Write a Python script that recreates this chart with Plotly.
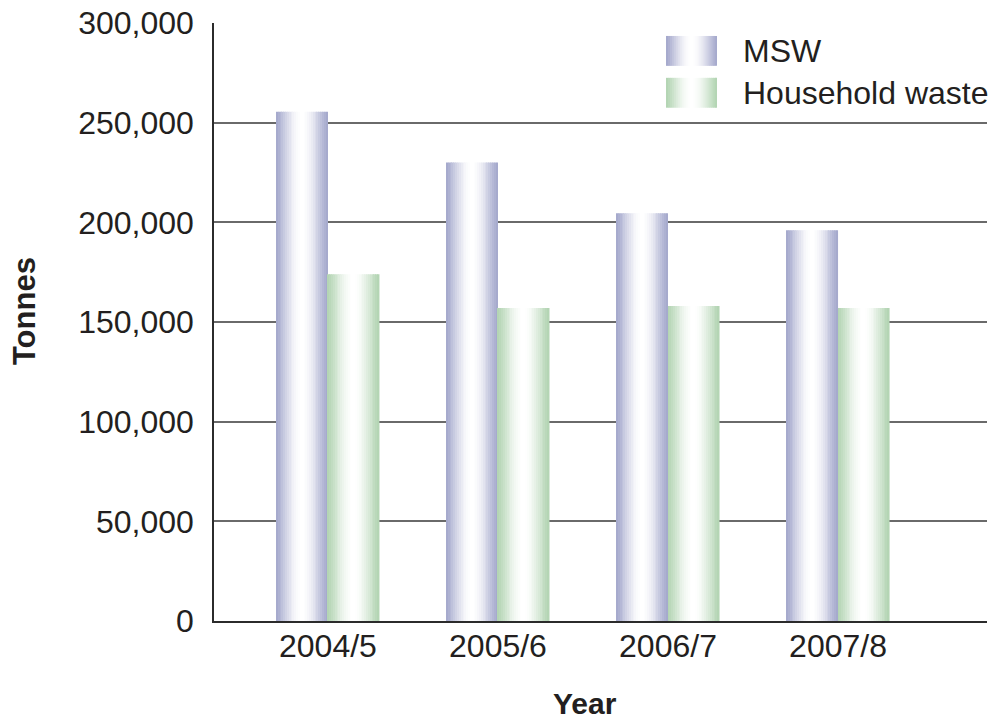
import plotly.graph_objects as go
import math

# Waste arisings by year (tonnes)
years = ["2004/5", "2005/6", "2006/7", "2007/8"]
msw = [255500, 230000, 204500, 196000]
household = [174000, 157000, 158000, 157000]
y_ticks = [0, 50000, 100000, 150000, 200000, 250000, 300000]

FONT = "Liberation Sans, Arial, sans-serif"
TEXT = "#231f20"

MSW_EDGE = (164, 168, 204)
HH_EDGE = (178, 212, 178)

N_SLICES = 28
BAR_W = 0.303


def shade(edge, t):
    """Cylinder-like shading: edge colour at the sides, white in the middle."""
    s = math.sin(math.pi * t) ** 1.3
    r, g, b = (round(c + (255 - c) * s) for c in edge)
    return f"rgb({r},{g},{b})"


fig = go.Figure()


def add_shaded_bars(values, name, edge, start):
    step = BAR_W / N_SLICES
    for k in range(N_SLICES):
        t = (k + 0.5) / N_SLICES
        fig.add_trace(go.Bar(
            x=years, y=values, name=name,
            width=step * 1.08 if k < N_SLICES - 1 else step,
            offset=start + k * step,
            marker=dict(color=shade(edge, t), line=dict(width=0)),
            showlegend=False, hoverinfo="x+y+name",
        ))


add_shaded_bars(msw, "MSW", MSW_EDGE, -BAR_W)
add_shaded_bars(household, "Household waste", HH_EDGE, 0.0)

# Plot-area geometry in pixels, used to place the key
L, R, T, B = 214, 987, 21, 621
W, H = R - L, B - T


def px(x):
    return (x - L) / W


def py(y):
    return 1 - (y - T) / H


shapes = []
annotations = []
key = [("MSW", MSW_EDGE, 34, 64), ("Household waste", HH_EDGE, 76, 106)]
for label, edge, y0, y1 in key:
    x0, x1 = 666, 717
    n = 26
    for k in range(n):
        a = x0 + (x1 - x0) * k / n
        b = x0 + (x1 - x0) * (k + 1) / n + 0.4
        shapes.append(dict(
            type="rect", xref="paper", yref="paper",
            x0=px(a), x1=px(min(b, x1)), y0=py(y1), y1=py(y0),
            fillcolor=shade(edge, (k + 0.5) / n), line=dict(width=0), layer="above",
        ))
    annotations.append(dict(
        text=label, xref="paper", yref="paper", x=px(741), y=py((y0 + y1) / 2),
        xanchor="left", yanchor="middle", showarrow=False,
        font=dict(family=FONT, size=32, color=TEXT),
    ))

annotations.append(dict(
    text="<b>Tonnes</b>", xref="paper", yref="paper", x=px(24), y=py(310),
    xanchor="center", yanchor="middle", textangle=-90, showarrow=False,
    font=dict(family=FONT, size=31, color=TEXT),
))
annotations.append(dict(
    text="<b>Year</b>", xref="paper", yref="paper", x=px(585), y=py(704),
    xanchor="center", yanchor="middle", showarrow=False, borderpad=0,
    font=dict(family=FONT, size=30, color=TEXT),
))

fig.update_layout(
    width=992, height=725,
    margin=dict(l=L, r=992 - R, t=T, b=725 - B, pad=0),
    paper_bgcolor="white", plot_bgcolor="white",
    barmode="overlay",
    showlegend=False,
    font=dict(family=FONT, size=32, color=TEXT),
    shapes=shapes,
    annotations=annotations,
    xaxis=dict(
        type="category", range=[-0.67, 3.876],
        showgrid=False, zeroline=False,
        showline=True, linecolor="#2b2b2b", linewidth=2,
        ticks="", ticklabelstandoff=-4,
        tickfont=dict(family=FONT, size=32, color=TEXT),
    ),
    yaxis=dict(
        range=[0, 300000], tickvals=y_ticks, tickformat=",",
        showgrid=True, gridcolor="#6a6a6a", gridwidth=1.6,
        zeroline=False,
        showline=True, linecolor="#2b2b2b", linewidth=1.5,
        ticks="", ticklabelstandoff=12,
        tickfont=dict(family=FONT, size=32, color=TEXT),
    ),
)

fig.write_html("out.html")
